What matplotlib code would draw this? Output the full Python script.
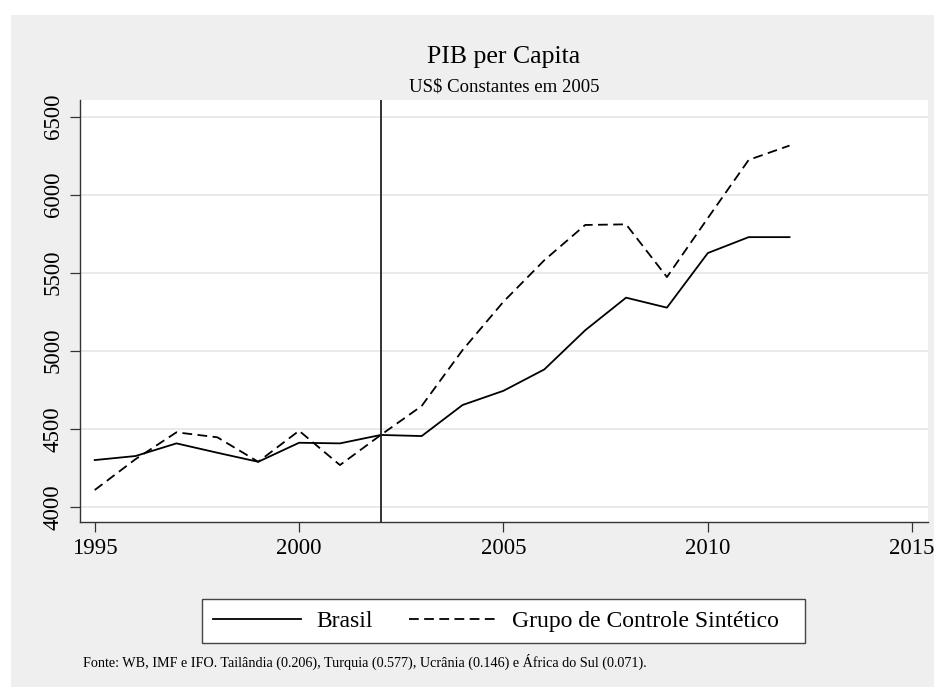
import matplotlib.pyplot as plt
from matplotlib.patches import Rectangle

# Dados (US$ constantes de 2005)
anos = list(range(1995, 2013))
brasil = [4299, 4325, 4406, 4346, 4288, 4410, 4406, 4460, 4453,
          4652, 4743, 4880, 5131, 5340, 5276, 5626, 5728, 5728]
sintetico = [4107, 4305, 4477, 4445, 4288, 4487, 4267, 4460, 4646,
             5004, 5314, 5580, 5806, 5810, 5472, 5850, 6223, 6315]
ano_tratamento = 2002
xticks = [1995, 2000, 2005, 2010, 2015]
yticks = [4000, 4500, 5000, 5500, 6000, 6500]
fonte = ("Fonte: WB, IMF e IFO. Tailândia (0.206), Turquia (0.577), "
         "Ucrânia (0.146) e África do Sul (0.071).")

plt.rcParams['font.family'] = ['Liberation Serif', 'DejaVu Serif']

W, H = 934, 687
fig = plt.figure(figsize=(W / 100, H / 100), dpi=100, facecolor='white')

# fundo cinza estilo Stata
fig.patches.append(Rectangle((11 / W, 0), 1 - 11 / W, 1 - 15 / H,
                             transform=fig.transFigure, facecolor='#efefef',
                             edgecolor='none', zorder=-10))

ax = fig.add_axes([80 / W, 1 - 521.7 / H, (927.7 - 80) / W, (521.7 - 100) / H])
ax.set_facecolor('white')

ax.plot(anos, brasil, color='black', lw=1.3, label='Brasil')
ax.plot(anos, sintetico, color='black', lw=1.3, dashes=(5.4, 3.0),
        label='Grupo de Controle Sintético')
ax.axvline(ano_tratamento, color='#222222', lw=1.3)

ax.set_xlim(1994.64, 2015.38)
ax.set_ylim(3904, 6607)
ax.set_xticks(xticks)
ax.set_yticks(yticks)
ax.grid(axis='y', color='#e6e6e6', lw=1.2)
ax.set_axisbelow(True)

for s in ['top', 'right']:
    ax.spines[s].set_visible(False)
for s in ['left', 'bottom']:
    ax.spines[s].set_color('#333333')
    ax.spines[s].set_linewidth(1.0)

ax.tick_params(axis='both', direction='out', length=7.2, width=0.9,
               color='#333333', labelsize=16.5, pad=4.5)
for lab in ax.get_yticklabels():
    lab.set_rotation(90)
    lab.set_va('center')

fig.text(504 / W, 1 - 63.3 / H, 'PIB per Capita', ha='center',
         va='baseline', fontsize=18.5)
fig.text(504 / W, 1 - 91.7 / H, 'US$ Constantes em 2005', ha='center',
         va='baseline', fontsize=13.5)
fig.text(83 / W, 1 - 666.7 / H, fonte, ha='left', va='baseline',
         fontsize=10.2)

# moldura da legenda (assimétrica, como no Stata)
fig.patches.append(Rectangle((202 / W, 1 - 643 / H), 603 / W, 44 / H,
                             transform=fig.transFigure, facecolor='white',
                             edgecolor='#444444', lw=1.0, zorder=1))
leg = fig.legend(loc='center', bbox_to_anchor=(496 / W, 1 - 621 / H),
                 ncol=2, fontsize=17, frameon=False,
                 handlelength=3.7, handletextpad=0.65, columnspacing=1.55,
                 borderpad=0.3)
leg.set_zorder(2)

fig.savefig('out.png', dpi=100, facecolor='white')
